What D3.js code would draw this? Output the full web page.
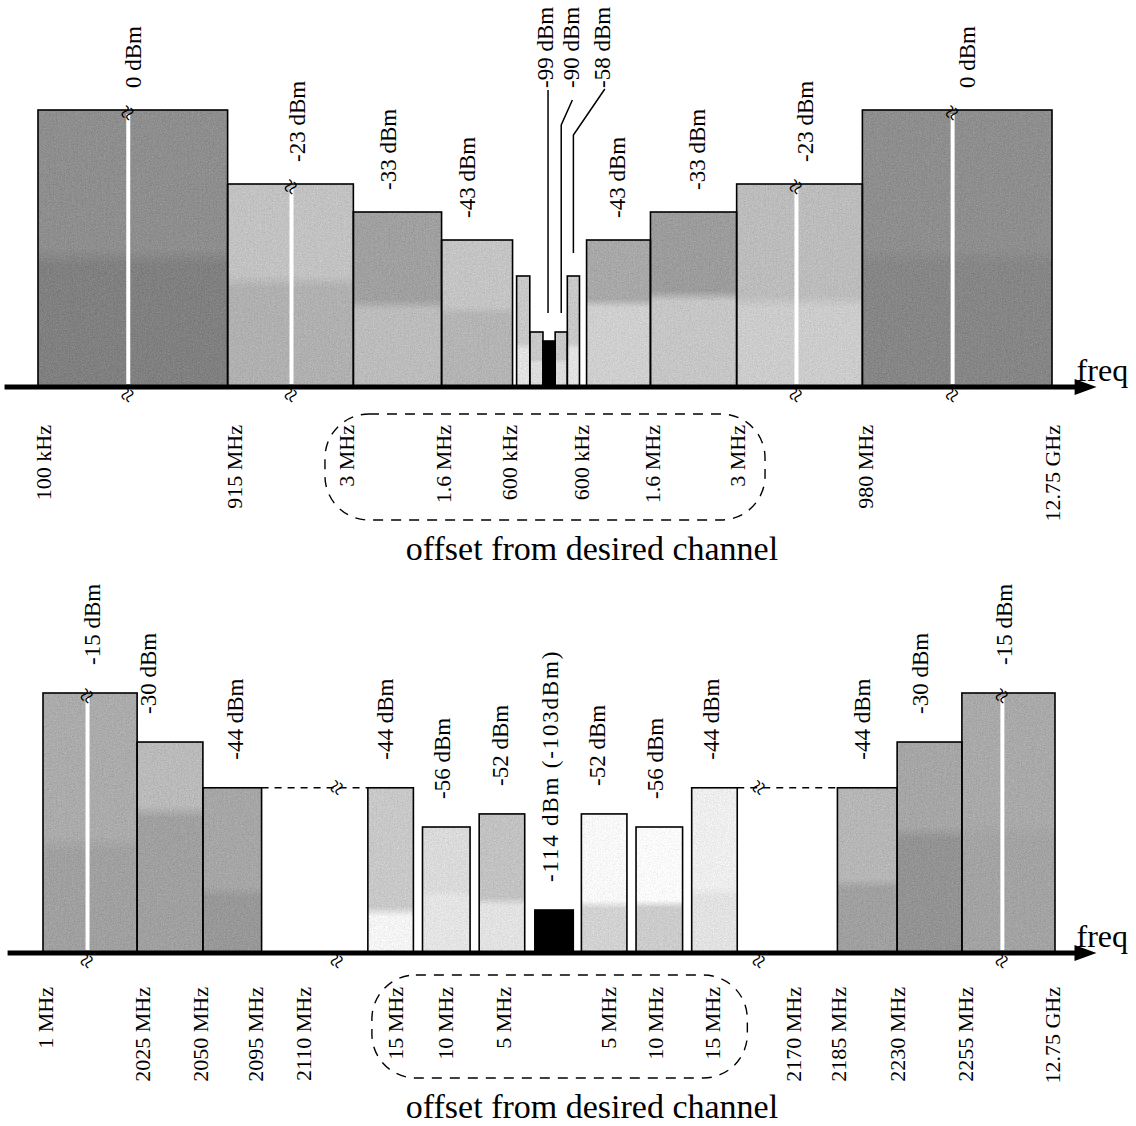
<!DOCTYPE html>
<html>
<head>
<meta charset="utf-8">
<script src="https://cdn.jsdelivr.net/npm/d3@7"></script>
<style>
  body { margin: 0; background: #fff; }
  text { font-family: "Liberation Serif", "Times New Roman", serif; fill: #000; }
</style>
</head>
<body>
<div id="chart"></div>
<script>
// ---- GSM panel (top) : levels in dBm, band edges in schematic axis units (0..1000)
var gsmLevels = [0, -23, -33, -43, -58, -90, -99, -90, -58, -43, -33, -23, 0]
var gsmEdges = [[0, 187], [187, 311], [311, 398], [398, 468], [472, 485], [485, 498],
                [498, 510], [510, 522], [522, 534], [541, 604], [604, 689], [689, 813], [813, 1000]]
var gsmLabelText = ['0 dBm', '-23 dBm', '-33 dBm', '-43 dBm', '-43 dBm', '-33 dBm', '-23 dBm', '0 dBm']
var gsmLabelLevel = [0, -23, -33, -43, -43, -33, -23, 0]
var gsmLabelPos = [94, 255, 345, 423, 571, 650, 756, 916]
var gsmCalloutText = ['-99 dBm', '-90 dBm', '-58 dBm']
var gsmCalloutLevel = [-99, -90, -58]
var gsmCalloutPos = [500, 526, 556]
var gsmBreaks = [89, 250, 748, 902]
var gsmBreakLevel = [0, -23, -23, 0]
var gsmTicks = [5, 193, 304, 399, 464, 535, 605, 689, 815, 1000]
var gsmTickLabels = ['100 kHz', '915 MHz', '3 MHz', '1.6 MHz', '600 kHz', '600 kHz',
                     '1.6 MHz', '3 MHz', '980 MHz', '12.75 GHz']

// ---- UMTS panel (bottom)
var umtsLevels = [-15, -30, -44, -44, -56, -52, -114, -52, -56, -44, -44, -30, -15]
var umtsEdges = [[0, 93], [93, 158], [158, 216], [321, 366], [375, 422], [431, 476], [486, 524],
                 [532, 577], [586, 632], [641, 686], [785, 844], [844, 908], [908, 1000]]
var umtsLabelText = ['-15 dBm', '-30 dBm', '-44 dBm', '-44 dBm', '-56 dBm', '-52 dBm', '-114 dBm (-103dBm)',
                     '-52 dBm', '-56 dBm', '-44 dBm', '-44 dBm', '-30 dBm', '-15 dBm']
var umtsLabelPos = [48, 104, 190, 338, 394, 452, 501, 547, 605, 660, 809, 867, 950]
var umtsBreaks = [44, 948]
var umtsBreakLevel = [-15, -15]
var umtsGaps = [[216, 321, 291], [686, 785, 708]]   // dashed -44 dBm bridge: from, to, break mark
var umtsTicks = [2, 98, 155, 209, 257, 348, 397, 454, 558, 605, 661, 741, 785, 844, 911, 997]
var umtsTickLabels = ['1 MHz', '2025 MHz', '2050 MHz', '2095 MHz', '2110 MHz', '15 MHz', '10 MHz', '5 MHz',
                      '5 MHz', '10 MHz', '15 MHz', '2170 MHz', '2185 MHz', '2230 MHz', '2255 MHz', '12.75 GHz']

// bar shading: top colour, bottom colour, split
var gsmShade = [['#8e8e8e', '#808080', 0.5], ['#c2c2c2', '#b0b0b0', 0.45], ['#a0a0a0', '#bcbcbc', 0.5],
  ['#c4c4c4', '#b4b4b4', 0.45], ['#c8c8c8', '#e2e2e2', 0.6], ['#c8c8c8', '#dcdcdc', 0.5], ['#000', '#000', 0.5],
  ['#c8c8c8', '#dcdcdc', 0.5], ['#c8c8c8', '#e2e2e2', 0.6], ['#a8a8a8', '#cfcfcf', 0.4],
  ['#9c9c9c', '#c6c6c6', 0.45], ['#bcbcbc', '#cccccc', 0.55], ['#8e8e8e', '#868686', 0.5]]
var umtsShade = [['#ababab', '#a0a0a0', 0.55], ['#bababa', '#a0a0a0', 0.3], ['#a6a6a6', '#989898', 0.6],
  ['#c8c8c8', '#f4f4f4', 0.72], ['#dadada', '#e4e4e4', 0.5], ['#c2c2c2', '#e2e2e2', 0.6], ['#000', '#000', 0.5],
  ['#f8f8f8', '#d2d2d2', 0.62], ['#fafafa', '#cccccc', 0.58], ['#eeeeee', '#e2e2e2', 0.6],
  ['#b6b6b6', '#a0a0a0', 0.55], ['#a6a6a6', '#939393', 0.4], ['#a9a9a9', '#a3a3a3', 0.5]]

var svg = d3.select('#chart').append('svg')
    .attr('width', 1136)
    .attr('height', 1126)
var defs = svg.append('defs')

// grain to hint at the scanned halftone (opaque grey noise, zero-mean offset)
var grain = defs.append('filter').attr('id', 'grain')
    .attr('x', 0).attr('y', 0).attr('width', 1).attr('height', 1)
    .attr('color-interpolation-filters', 'sRGB')
grain.append('feTurbulence').attr('type', 'fractalNoise').attr('baseFrequency', 0.75)
    .attr('numOctaves', 2).attr('seed', 3).attr('result', 'noise')
grain.append('feColorMatrix').attr('in', 'noise').attr('type', 'matrix')
    .attr('values', '0.33 0.33 0.33 0 0  0.33 0.33 0.33 0 0  0.33 0.33 0.33 0 0  0 0 0 0 1')
    .attr('result', 'mono')
grain.append('feComposite').attr('in', 'SourceGraphic').attr('in2', 'mono').attr('operator', 'arithmetic')
    .attr('k1', 0).attr('k2', 1).attr('k3', 0.3).attr('k4', -0.15).attr('result', 'mix')
grain.append('feComposite').attr('in', 'mix').attr('in2', 'SourceGraphic').attr('operator', 'in')

function breakMark(g, px, py) {
  g.append('text')
      .attr('transform', 'translate(' + px + ',' + py + ') rotate(-62)')
      .attr('text-anchor', 'middle')
      .attr('dy', '0.3em')
      .attr('font-size', 26)
      .attr('font-family', '"DejaVu Sans", sans-serif')
      .text('\u2248')
}

function drawPanel(cfg) {
  var x = d3.scaleLinear().domain([0, 1000]).range(cfg.xRange)
  var y = d3.scaleLinear().domain(cfg.yDomain).range(cfg.yRange)
  var base = y(cfg.yDomain[0])
  var g = svg.append('g')

  // gradients per bar
  cfg.shade.forEach(function (s, i) {
    var lg = defs.append('linearGradient').attr('id', cfg.id + i)
        .attr('x1', 0).attr('y1', 0).attr('x2', 0).attr('y2', 1)
    lg.append('stop').attr('offset', 0).attr('stop-color', s[0])
    lg.append('stop').attr('offset', s[2]).attr('stop-color', s[0])
    lg.append('stop').attr('offset', Math.min(1, s[2] + 0.06)).attr('stop-color', s[1])
    lg.append('stop').attr('offset', 1).attr('stop-color', s[1])
  })

  // bars
  g.selectAll('rect.bar')
      .data(cfg.edges)
      .enter()
    .append('rect')
      .attr('class', 'bar')
      .attr('x', function (d) { return x(d[0]) })
      .attr('width', function (d) { return x(d[1]) - x(d[0]) })
      .attr('y', function (d, i) { return y(cfg.levels[i]) })
      .attr('height', function (d, i) { return base - y(cfg.levels[i]) })
      .attr('fill', function (d, i) { return 'url(#' + cfg.id + i + ')' })
      .attr('filter', function (d, i) { return cfg.levels[i] === cfg.blackLevel ? null : 'url(#grain)' })
  g.selectAll('rect.edge')
      .data(cfg.edges)
      .enter()
    .append('rect')
      .attr('class', 'edge')
      .attr('x', function (d) { return x(d[0]) })
      .attr('width', function (d) { return x(d[1]) - x(d[0]) })
      .attr('y', function (d, i) { return y(cfg.levels[i]) })
      .attr('height', function (d, i) { return base - y(cfg.levels[i]) })
      .attr('fill', 'none')
      .attr('stroke', '#000')
      .attr('stroke-width', 1.6)

  // white break lines through the wide bands
  cfg.breaks.forEach(function (u, i) {
    g.append('line')
        .attr('x1', x(u)).attr('x2', x(u))
        .attr('y1', y(cfg.breakLevel[i]) + 4).attr('y2', base - 3)
        .attr('stroke', '#fff').attr('stroke-width', 4)
    breakMark(g, x(u), y(cfg.breakLevel[i]) + 3)
    breakMark(g, x(u), base + 8)
  })

  // dashed bridges (bottom panel only)
  ;(cfg.gaps || []).forEach(function (d) {
    g.append('line')
        .attr('x1', x(d[0])).attr('x2', x(d[1]))
        .attr('y1', y(-44)).attr('y2', y(-44))
        .attr('stroke', '#000').attr('stroke-width', 1.4).attr('stroke-dasharray', '7,6')
    breakMark(g, x(d[2]), y(-44))
    breakMark(g, x(d[2]), base + 8)
  })

  // level labels
  g.selectAll('text.level')
      .data(cfg.labelText)
      .enter()
    .append('text')
      .attr('class', 'level')
      .attr('font-size', 23)
      .attr('letter-spacing', function (d) { return d.length > 10 ? 1.8 : null })
      .attr('dy', '0.35em')
      .attr('transform', function (d, i) {
        return 'translate(' + x(cfg.labelPos[i]) + ',' + (y(cfg.labelLevel[i]) - cfg.labelGap) + ') rotate(-90)'
      })
      .text(function (d) { return d })

  // axis: thick line + arrow, labels via d3.axisBottom
  var ax0 = x(cfg.axisExtent[0]), ax1 = x(cfg.axisExtent[1])
  g.append('line')
      .attr('x1', ax0).attr('x2', ax1 - 18)
      .attr('y1', base).attr('y2', base)
      .attr('stroke', '#000').attr('stroke-width', 5)
  g.append('path')
      .attr('d', 'M' + ax1 + ',' + base + 'L' + (ax1 - 22) + ',' + (base - 8) + 'L' + (ax1 - 22) + ',' + (base + 8) + 'Z')
      .attr('fill', '#000')
  g.append('text')
      .attr('x', ax1 - 20)
      .attr('y', base - 6)
      .attr('font-size', 32)
      .text('freq')

  var axis = d3.axisBottom(x)
      .tickValues(cfg.ticks)
      .tickSize(0)
      .tickFormat(function (d) { return cfg.tickLabels[cfg.ticks.indexOf(d)] })
  var axG = g.append('g')
      .attr('transform', 'translate(0,' + base + ')')
      .call(axis)
  axG.select('.domain').remove()
  axG.attr('font-family', '"Liberation Serif", "Times New Roman", serif').attr('font-size', 22)
  axG.selectAll('.tick text')
      .attr('y', 0)
      .attr('dy', '0.35em')
      .attr('text-anchor', 'end')
      .attr('transform', 'translate(0,' + cfg.tickOffset + ') rotate(-90)')

  // dashed box around the offset labels
  g.append('rect')
      .attr('x', x(cfg.box[0]))
      .attr('width', x(cfg.box[1]) - x(cfg.box[0]))
      .attr('y', base + cfg.boxY[0])
      .attr('height', cfg.boxY[1] - cfg.boxY[0])
      .attr('rx', 44).attr('ry', 44)
      .attr('fill', 'none')
      .attr('stroke', '#000').attr('stroke-width', 1.4).attr('stroke-dasharray', '10,8')
  g.append('text')
      .attr('x', 592)
      .attr('y', base + cfg.captionDy)
      .attr('text-anchor', 'middle')
      .attr('font-size', 34)
      .text('offset from desired channel')

  return { g: g, x: x, y: y }
}

// ---- top panel
var gsmPanel = drawPanel({
  id: 'gsm', xRange: [38, 1052],
  yDomain: [-130, -99, -90, -58, -43, -33, -23, 0],
  yRange: [387, 341, 332, 276, 240, 212, 184, 110],
  levels: gsmLevels, edges: gsmEdges, shade: gsmShade, blackLevel: -99,
  breaks: gsmBreaks, breakLevel: gsmBreakLevel,
  labelText: gsmLabelText, labelLevel: gsmLabelLevel, labelPos: gsmLabelPos, labelGap: 22,
  axisExtent: [-33, 1044],
  ticks: gsmTicks, tickLabels: gsmTickLabels, tickOffset: 38,
  box: [283, 717], boxY: [27, 133], captionDy: 173
})

// callouts for the narrow in-band blockers
gsmCalloutText.forEach(function (t, i) {
  var lx = gsmPanel.x(gsmCalloutPos[i])
  gsmPanel.g.append('text')
      .attr('font-size', 23)
      .attr('dy', '0.35em')
      .attr('transform', 'translate(' + lx + ',88) rotate(-90)')
      .text(t)
})
var calloutLines = [
  [[503, 90], [503, -28]],
  [[527, 100], [516, 125], [516, -19]],
  [[559, 89], [528, 135], [528, -23]]
]
calloutLines.forEach(function (pts, i) {
  var line = d3.line()
      .x(function (p) { return gsmPanel.x(p[0]) })
      .y(function (p) { return p[1] < 0 ? gsmPanel.y(gsmCalloutLevel[i]) + p[1] : p[1] })
  gsmPanel.g.append('path')
      .attr('d', line(pts))
      .attr('fill', 'none')
      .attr('stroke', '#000')
      .attr('stroke-width', 1.5)
})

// ---- bottom panel
drawPanel({
  id: 'umts', xRange: [43, 1055],
  yDomain: [-130, -114, -56, -15],
  yRange: [953, 910, 827, 693],
  levels: umtsLevels, edges: umtsEdges, shade: umtsShade, blackLevel: -114,
  breaks: umtsBreaks, breakLevel: umtsBreakLevel, gaps: umtsGaps,
  labelText: umtsLabelText, labelLevel: umtsLevels, labelPos: umtsLabelPos, labelGap: 28,
  axisExtent: [-35, 1041],
  ticks: umtsTicks, tickLabels: umtsTickLabels, tickOffset: 34,
  box: [325, 696], boxY: [22, 125], captionDy: 165
})
</script>
</body>
</html>
